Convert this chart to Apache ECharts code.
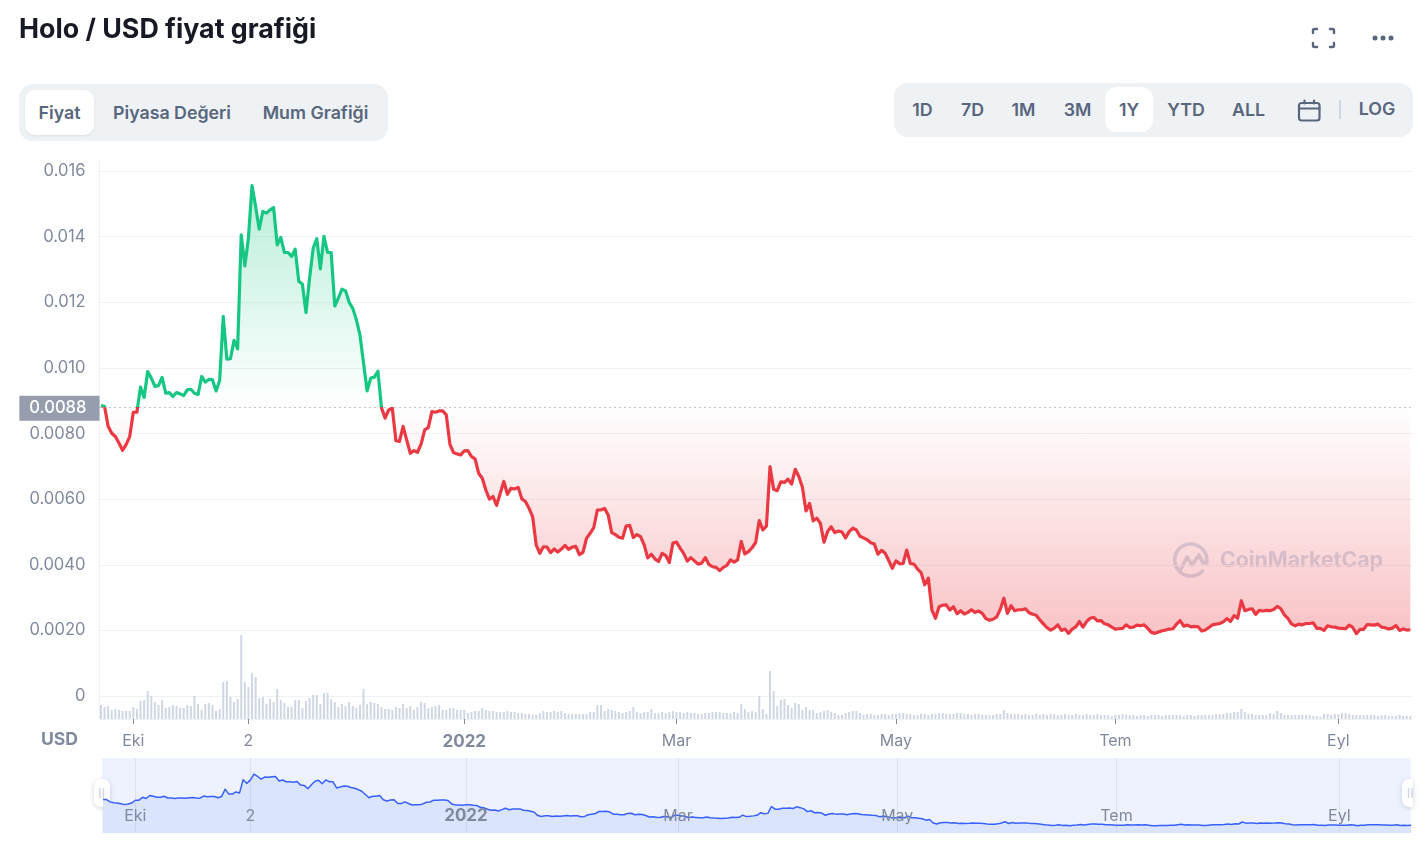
<!DOCTYPE html>
<html lang="tr">
<head>
    <meta charset="UTF-8">
    <title>Holo / USD fiyat grafiği</title>
    <style>
        html, body { margin: 0; padding: 0; background: #fff; }
        body { position: relative; width: 1426px; height: 852px; overflow: hidden; font-family: Inter, sans-serif; }
        #main { position: absolute; left: 0; top: 0; width: 1426px; height: 852px; }
        .box { position: absolute; }
        .t { position: absolute; transform: translate(-50%, -50%); white-space: nowrap; font-size: 17.8px; font-weight: 600; color: #58667e; line-height: 1; }
        h1 { position: absolute; left: 19px; top: 11px; margin: 0; font-size: 26.8px; line-height: 34px; font-weight: 700; color: #171924; white-space: nowrap; }
    </style>
</head>
<body>
<div id="main"></div>

<!-- sayfa başlığı ve butonlar -->
<h1>Holo / USD fiyat grafiği</h1>
<svg class="box" style="left:1311px;top:27px" width="25" height="22" viewBox="0 0 25 22" fill="none" stroke="#58667e" stroke-width="2.4" stroke-linecap="round" stroke-linejoin="round">
    <path d="M2 6V3.5Q2 2 3.5 2H6M19 2h2.5Q23 2 23 3.5V6M23 16v2.5Q23 20 21.5 20H19M6 20H3.5Q2 20 2 18.5V16"/>
</svg>
<svg class="box" style="left:1371px;top:34px" width="24" height="8" viewBox="0 0 24 8" fill="#58667e">
    <circle cx="4" cy="4" r="2.5"/><circle cx="12" cy="4" r="2.5"/><circle cx="20" cy="4" r="2.5"/>
</svg>

<div class="box" style="left:19px;top:84px;width:369px;height:57px;background:#eff2f5;border-radius:14px"></div>
<div class="box" style="left:25px;top:90px;width:69px;height:45px;background:#fff;border-radius:10px;box-shadow:0 1px 2px rgba(88,102,126,.12)"></div>
<div class="t" style="left:59.5px;top:113px">Fiyat</div>
<div class="t" style="left:172px;top:113px">Piyasa Değeri</div>
<div class="t" style="left:315.5px;top:113px">Mum Grafiği</div>

<div class="box" style="left:894px;top:83px;width:519px;height:54px;background:#eff2f5;border-radius:14px"></div>
<div class="box" style="left:1105px;top:87px;width:48px;height:45px;background:#fff;border-radius:12px"></div>
<div class="t" style="left:922.5px;top:110px">1D</div>
<div class="t" style="left:972.5px;top:110px">7D</div>
<div class="t" style="left:1023.5px;top:110px">1M</div>
<div class="t" style="left:1077.5px;top:110px">3M</div>
<div class="t" style="left:1129px;top:110px">1Y</div>
<div class="t" style="left:1186px;top:110px">YTD</div>
<div class="t" style="left:1248.5px;top:110px">ALL</div>
<svg class="box" style="left:1297px;top:98px" width="25" height="25" viewBox="0 0 25 25" fill="none" stroke="#58667e" stroke-width="2.2" stroke-linecap="round">
    <rect x="2" y="5" width="20.5" height="17.5" rx="2.5"/><path d="M2 10.5h20.5M7.5 2.5v3M17 2.5v3"/>
</svg>
<div class="box" style="left:1339px;top:100px;width:2px;height:19px;background:#cfd6e4"></div>
<div class="t" style="left:1377px;top:108.5px">LOG</div>
<div class="t" style="left:59.5px;top:739px;font-size:17.6px;font-weight:700;color:#808a9d">USD</div>

<script src="https://cdn.jsdelivr.net/npm/echarts@6/dist/echarts.min.js"></script>
<script>
    // fiyat, 0.0001 USD biriminde, 22 Eyl 2021'den itibaren günlük
    const priceE4 = [
        88.5,88.3,82.2,80.1,79.1,77.1,74.9,76.6,79.1,86.5,
        86.5,94.2,91,98.9,96.9,94.4,94.6,97.1,92.3,92.5,
        91.3,92.5,92.1,91.6,93.3,93.5,92.3,91.9,97.4,95.7,
        96.5,96.4,93,96.2,115.7,102.7,102.8,108.4,105.8,140.6,
        131.1,139.6,155.6,149.2,142.3,147.7,147.2,148.2,148.9,137.5,
        139.8,135.2,135.2,134,136.2,126.4,125.6,116.9,127.4,136.5,
        139.4,130.2,140.1,135.2,135.2,118.9,121.3,124,123.5,120,
        118.2,114.7,110.1,101.5,93,96.9,97.2,99,87.8,84.7,
        87.2,87.7,77.8,77.6,82.2,78,74,74.8,74.3,76.8,
        81.1,81.8,86.7,86.5,86.9,86.9,85.7,76.8,74.2,73.8,
        73.5,74.7,74.8,73,72.3,67.9,66.4,62.8,60,60.8,
        58.1,61.8,65.4,61.5,63.3,63.1,63.6,60.1,59.3,57.2,
        54.7,46,43.5,45.5,45.4,43.7,44.8,43.9,44.8,45.9,
        44.7,45.4,45.6,43.1,43.8,48.1,49.6,51.3,56.7,56.7,
        57.2,55.2,49.8,49.2,48.4,48.1,51.8,52,48.3,49.2,
        48.6,46.1,42.1,43.2,41.8,41,43.5,42.8,40.7,46.6,
        46.9,45.1,43.5,41.1,42.2,41.2,40.2,40.5,42.2,40.1,
        39.4,39.2,38.2,39.2,39.8,41.5,40.8,41.5,47.1,43.3,
        44,45.2,46.8,53.5,50.6,51.8,69.9,63,62.6,65.3,
        65.1,66.1,64.6,69.1,66.9,63.6,56.4,58.7,53.4,54.2,
        52.6,46.9,50.1,51.6,49.8,50.3,50,48.2,50.1,51.2,
        50.6,48.7,48.2,47.6,46.7,46.3,43.2,44.4,43.5,41.3,
        38.9,41.2,40.3,40.4,44.5,40.4,40.2,38.7,37.6,33.9,
        35.9,26.2,23.7,27.2,27.7,27.8,26.2,27.2,25.1,26,
        25,25.5,26.3,25.5,25.9,25.2,23.6,23.1,23.4,24.1,
        26.4,29.8,25.2,27.5,26,26.3,26.3,26.6,25.4,24.9,
        24.6,23.2,22,20.8,20.1,20.7,21.7,20,20.4,19.1,
        20.4,21.1,22.7,21,22.7,23.7,24,22.9,23,22,
        21.7,21,20.4,20.5,20.6,21.7,20.9,21,21.6,21.4,
        21.7,20.6,19.4,19.1,19.5,19.9,20.1,20.4,20.5,21.9,
        23,21.3,21.6,21.1,21.2,21.1,19.8,20.1,20.9,21.7,
        21.9,22.1,22.6,23.6,22.7,24.5,23.7,29,26,26.4,
        26.6,24.9,26.1,25.9,26.1,26,26.4,27.3,26.6,24.7,
        23.6,21.9,21.4,21.9,21.7,22.1,22.1,22.3,20.6,20.6,
        20,21.4,21.1,21,20.7,20.6,20.5,21.6,20.9,19,
        20.3,20.3,21.8,21.7,21.6,21.9,21,20.8,20.4,20.7,
        21.5,20,20.4,20.1,20.2
    ];
    // hacim, gerçek birim okunamıyor, göreli değer
    const volume = [
        14,12,13,9,10,9,8,8,8,12,
        10,18,19,28,23,17,14,19,11,12,
        14,13,11,11,14,13,23,15,9,15,
        16,14,8,10,37,38,22,17,20,84,
        37,32,46,42,21,22,15,20,17,30,
        19,16,12,12,19,19,11,18,21,24,
        24,15,26,26,20,17,12,15,13,17,
        13,11,14,30,15,17,16,15,12,10,
        10,9,12,11,15,11,13,9,12,17,
        16,11,12,13,14,9,9,11,11,9,
        9,9,6,7,8,8,11,9,8,8,
        7,7,7,8,7,7,6,6,5,5,
        4,4,6,8,7,7,8,7,8,6,
        5,5,5,5,5,5,7,7,14,14,
        8,10,9,8,7,6,7,8,12,7,
        6,7,7,10,6,6,7,6,7,8,
        7,7,6,7,6,6,5,5,6,6,
        7,7,7,6,6,6,7,6,15,10,
        7,8,7,23,10,5,48,28,13,19,
        20,14,11,16,15,9,12,9,9,6,
        7,8,9,7,6,4,4,6,7,8,
        8,6,4,5,5,4,4,5,5,4,
        5,5,6,6,5,5,4,4,5,5,
        4,5,5,6,6,5,5,5,6,6,
        5,5,4,5,5,4,4,4,4,5,
        5,9,6,5,5,5,4,5,4,4,
        5,4,5,4,5,5,4,4,5,4,
        4,5,4,4,5,4,4,5,4,4,
        4,3,4,4,5,4,4,4,3,4,
        4,3,4,4,4,3,4,4,4,4,
        4,3,4,4,3,4,4,4,4,4,
        5,5,5,6,6,7,7,10,7,5,
        5,4,4,4,4,6,5,8,6,4,
        4,4,4,4,4,4,4,3,3,2,
        5,5,4,5,5,6,6,5,4,4,
        4,4,4,4,4,3,4,4,3,3,
        3,4,3,3,3
    ];
    const basePrice = 0.0088;
    const yLabelValues = [0, 0.002, 0.004, 0.006, 0.008, 0.01, 0.012, 0.014, 0.016];
    // 22 Eyl 2021'den kaçıncı gün: 1 Eki, 2 Kas, 1 Oca, 1 Mar, 1 May, 1 Tem, 1 Eyl
    const xTicks = [9, 41, 101, 160, 221, 282, 344];
    const xTickLabels = ['Eki', '2', '{b|2022}', 'Mar', 'May', 'Tem', 'Eyl'];

    const priceData = priceE4.map((v, i) => [i, v / 10000]);
    const volumeData = volume.map((v, i) => [i, v]);

    const tickLabel = function (v) {
        return xTickLabels[xTicks.indexOf(v)] || '';
    };
    const labelText = { color: '#808a9d', fontFamily: 'Inter', fontSize: 16, rich: { b: { color: '#808a9d', fontFamily: 'Inter', fontSize: 17, fontWeight: 700 } } };

    const myChart = echarts.init(document.getElementById('main'));
    myChart.setOption({
        animation: false,
        grid: [
            { left: 99.5, top: 159, width: 1313, height: 537 },
            { left: 99.5, top: 635, width: 1313, height: 84 },
            { left: 102, top: 758, width: 1308.5, height: 75, show: true, backgroundColor: '#edf2fe', borderWidth: 0 }
        ],
        xAxis: [
            { type: 'value', gridIndex: 0, show: false, min: -0.4, max: 364.6, splitLine: { show: false } },
            {
                type: 'value', gridIndex: 1, min: -0.4, max: 364.6,
                axisLine: { show: true, onZero: false, lineStyle: { color: '#eff2f5' } },
                axisTick: { show: true, customValues: xTicks, length: 5, lineStyle: { color: '#808a9d' } },
                axisLabel: Object.assign({ customValues: xTicks, formatter: tickLabel, margin: 14, hideOverlap: false }, labelText),
                splitLine: { show: false }
            },
            {
                type: 'value', gridIndex: 2, z: 5, min: -0.27, max: 363.81,
                axisLine: { show: false },
                axisTick: { show: false, customValues: xTicks },
                axisLabel: Object.assign({ customValues: xTicks, formatter: tickLabel, inside: true, margin: 9, hideOverlap: false }, labelText),
                splitLine: { show: true, lineStyle: { color: 'rgba(128,138,157,0.16)' } }
            }
        ],
        yAxis: [
            {
                type: 'value', gridIndex: 0, min: 0, max: 0.01637, interval: 0.002,
                axisLine: { show: true, onZero: false, lineStyle: { color: '#eff2f5' } },
                axisTick: { show: false },
                axisLabel: {
                    color: '#808a9d', fontFamily: 'Inter', fontSize: 16.6, margin: 14, showMaxLabel: false, padding: [4, 0, 0, 0],
                    formatter: v => {
                        if (v === 0) return '0';
                        if (yLabelValues.indexOf(v) < 0) return '';
                        return v >= 0.01 ? v.toFixed(3) : v.toFixed(4);
                    }
                },
                splitLine: { showMaxLine: false, lineStyle: { color: '#eff2f5' } }
            },
            {
                type: 'value', gridIndex: 1, min: 0, max: 84,
                axisLine: { show: true, onZero: false, lineStyle: { color: '#eff2f5' } },
                axisTick: { show: false }, axisLabel: { show: false }, splitLine: { show: false }
            },
            { type: 'value', gridIndex: 2, min: 0, max: 0.0198, show: false }
        ],
        // taban fiyatın üstü yeşil, altı kırmızı (iki uç da kapalı olmalı, yoksa stop üretmiyor)
        visualMap: {
            show: false, seriesIndex: 0, dimension: 1,
            pieces: [{ gte: 0, lte: basePrice, color: '#ea3943' }, { gt: basePrice, lte: 0.02, color: '#16c784' }]
        },
        series: [
            {
                type: 'line', xAxisIndex: 0, yAxisIndex: 0, data: priceData, showSymbol: false, z: 3,
                lineStyle: { width: 3.2, join: 'round' },
                areaStyle: {
                    origin: basePrice, opacity: 1,
                    color: {
                        type: 'linear', global: true, x: 0, y: 185, x2: 0, y2: 632,
                        colorStops: [
                            { offset: 0, color: 'rgba(22,199,132,0.3)' },
                            { offset: 0.4966, color: 'rgba(22,199,132,0)' },
                            { offset: 0.4967, color: 'rgba(234,57,67,0)' },
                            { offset: 1, color: 'rgba(234,57,67,0.3)' }
                        ]
                    }
                },
                markLine: {
                    silent: true, symbol: 'none', animation: false, precision: 6,
                    lineStyle: { type: [1, 4], color: '#808a9d', width: 1 },
                    label: {
                        position: 'start', distance: 0, offset: [0, 1], color: '#fff', fontFamily: 'Inter', fontSize: 16.6, fontWeight: 500,
                        backgroundColor: '#969eae', padding: [5, 13, 3, 10],
                        formatter: () => basePrice.toFixed(4)
                    },
                    data: [{ yAxis: basePrice }]
                }
            },
            {
                type: 'bar', xAxisIndex: 1, yAxisIndex: 1, data: volumeData, barWidth: 2, z: 2,
                itemStyle: { color: '#cfd6e4' }
            },
            {
                type: 'line', xAxisIndex: 2, yAxisIndex: 2, data: priceData, showSymbol: false, z: 3,
                lineStyle: { width: 1.5, color: '#3861fb', join: 'round' },
                areaStyle: { color: '#dbe4fd', opacity: 1 }
            }
        ],
        graphic: [
            // CoinMarketCap filigranı
            {
                type: 'group', silent: true, z: 4, children: [
                    { type: 'arc', shape: { cx: 1190.7, cy: 560, r: 16, startAngle: 0.75, endAngle: 0.2 + Math.PI * 2, clockwise: true }, style: { fill: null, stroke: '#d2deea', lineWidth: 3.6, lineCap: 'round' } },
                    { type: 'polyline', shape: { points: [[1181, 569], [1187, 557], [1192, 565], [1199, 555], [1203, 563], [1207, 562]] }, style: { fill: null, stroke: '#d2deea', lineWidth: 3.6, lineJoin: 'round', lineCap: 'round' } },
                    { type: 'text', style: { x: 1220, y: 561, text: 'CoinMarketCap', fill: '#d2deea', font: '700 21.3px Inter', textVerticalAlign: 'middle' } }
                ]
            },
            // mini harita tutamaçları
            {
                type: 'group', silent: true, z: 6, children: [
                    { type: 'rect', shape: { x: 94, y: 779, width: 16, height: 28, r: 7 }, style: { fill: '#fff', shadowBlur: 4, shadowColor: 'rgba(88,102,126,0.3)', shadowOffsetY: 1 } },
                    { type: 'line', shape: { x1: 100, y1: 788, x2: 100, y2: 798 }, style: { stroke: '#cfd6e4', lineWidth: 1.5 } },
                    { type: 'line', shape: { x1: 103.5, y1: 788, x2: 103.5, y2: 798 }, style: { stroke: '#cfd6e4', lineWidth: 1.5 } },
                    { type: 'rect', shape: { x: 1402, y: 779, width: 11, height: 28, r: [7, 0, 0, 7] }, style: { fill: '#fff', shadowBlur: 4, shadowColor: 'rgba(88,102,126,0.3)', shadowOffsetY: 1 } },
                    { type: 'line', shape: { x1: 1408.5, y1: 788, x2: 1408.5, y2: 798 }, style: { stroke: '#cfd6e4', lineWidth: 1.5 } },
                    { type: 'line', shape: { x1: 1412, y1: 788, x2: 1412, y2: 798 }, style: { stroke: '#cfd6e4', lineWidth: 1.5 } }
                ]
            }
        ]
    });
</script>
</body>
</html>
